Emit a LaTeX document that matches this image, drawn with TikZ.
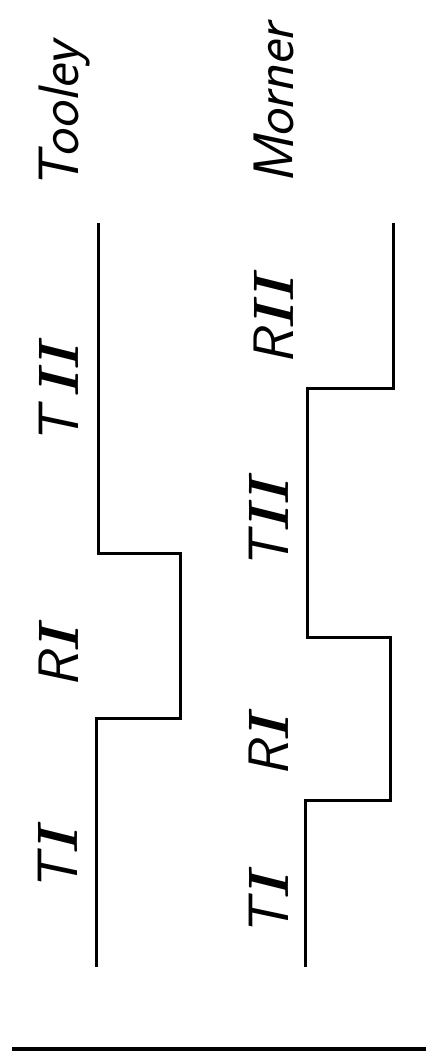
\documentclass[tikz,border=0pt]{standalone}
\newcommand{\nI}{{\rmfamily\itshape\bfseries I}}
\begin{document}
\begin{tikzpicture}[x=1pt,y=-1pt,
  lbl/.style={rotate=90,anchor=base west,inner sep=0pt,font=\fontsize{57}{60}\selectfont\sffamily\slshape},
  trace/.style={line width=3pt,line join=miter}]
\useasboundingbox (0,0) rectangle (426,1055);
% titles
\node[lbl] (tooley) at (78,190) {Tooley};
\node[lbl] (morner) at (293,184) {Morner};
% Tooley labels
\node[lbl] (tTII) at (78,445) {T\,\nI\nI};
\node[lbl] (tRI) at (78,688) {R\nI};
\node[lbl] (tTI) at (77,892) {T\nI};
% Morner labels
\node[lbl] (mRII) at (293,365) {R\nI\nI};
\node[lbl] (mTII) at (288,570) {T\nI\nI};
\node[lbl] (mRI) at (288,777) {R\nI};
\node[lbl] (mTI) at (288,937) {T\nI};
% Tooley trace
\coordinate (ta) at (98,223);
\coordinate (tb) at (98,553);
\coordinate (tc) at (180,553);
\coordinate (td) at (180,718);
\coordinate (te) at (96,718);
\coordinate (tf) at (96,967);
\draw[trace] (ta) -- (tb) -- (tc) -- (td) -- (te) -- (tf);
% Morner trace
\coordinate (ma) at (393,223);
\coordinate (mb) at (393,388);
\coordinate (mc) at (307,388);
\coordinate (md) at (307,637);
\coordinate (me) at (390,637);
\coordinate (mf) at (390,800);
\coordinate (mg) at (305,800);
\coordinate (mh) at (305,967);
\draw[trace] (ma) -- (mb) -- (mc) -- (md) -- (me) -- (mf) -- (mg) -- (mh);
% baseline
\coordinate (bl) at (12,1049);
\coordinate (br) at (426,1049);
\draw[line width=3.5pt] (bl) -- (br);
\end{tikzpicture}
\end{document}
